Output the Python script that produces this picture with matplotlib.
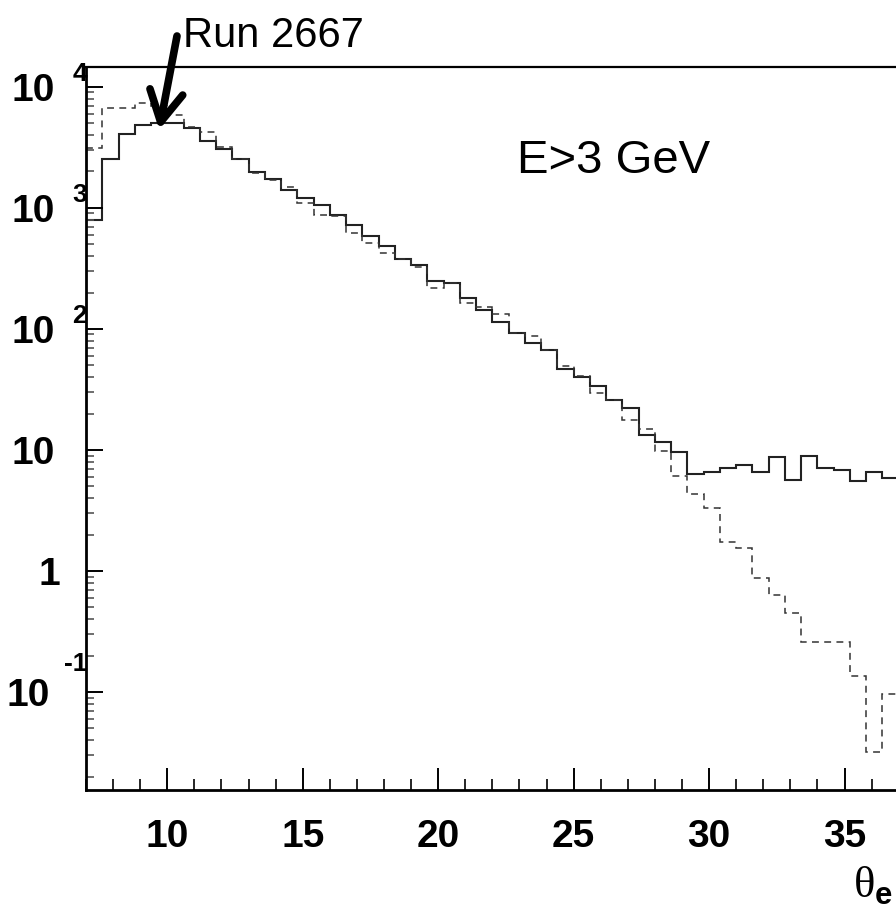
import matplotlib
matplotlib.use('Agg')
import matplotlib.pyplot as plt
from matplotlib.ticker import MultipleLocator, LogLocator, NullFormatter
import numpy as np

plt.rcParams['mathtext.fontset'] = 'custom'
plt.rcParams['mathtext.rm'] = 'Liberation Serif'
plt.rcParams['mathtext.bf'] = 'Liberation Sans:bold'

# theta_e histogram binning (deg)
bin_start = 7.0
bin_width = 0.6
n_bins = 50

# solid: Run 2667 data, dashed: comparison histogram (counts per bin)
run_counts = [796, 2526, 4064, 4853, 5070, 5000, 4560, 3600, 3055, 2526,
              1995, 1726, 1409, 1203, 1049, 881, 724, 584, 485, 377,
              338, 249, 239, 179, 144, 115, 93, 76, 67, 46.4,
              40.3, 33.6, 25.9, 22.1, 13.3, 11.7, 9.58, 6.34, 6.58, 7.06,
              7.52, 6.62, 8.80, 5.65, 8.92, 7.06, 6.84, 5.57, 6.62, 5.84]
sim_counts = [3114, 6668, 6668, 7418, 7000, 5870, 4645, 4273, 3211, 2526,
              1935, 1704, 1500, 1093, 875, 863, 625, 517, 422, 377,
              327, 217, 239, 165, 151, 133, 93, 87.5, 67, 49.4,
              40.9, 29.6, 25.9, 17.7, 14.8, 9.8, 6.13, 4.33, 3.30, 1.73,
              1.54, 0.883, 0.628, 0.450, 0.261, 0.261, 0.261, 0.136, 0.032, 0.096]

xticks = [10, 15, 20, 25, 30, 35]
xtick_labels = ['10', '15', '20', '25', '30', '35']
ytick_vals = [1e4, 1e3, 1e2, 1e1, 1, 1e-1]
ytick_base = ['10', '10', '10', '10', '1', '10']
ytick_exp = ['4', '3', '2', '', '', '-1']

arrow_tip = (9.7, 4420)   # peak the arrow points at
label_text = 'E>3 GeV'
run_text = 'Run 2667'
xtitle = r'$\mathrm{θ}_{\mathbf{e}}$'

bold_font = 'Liberation Sans'

edges = bin_start + bin_width * np.arange(n_bins + 1)

fig = plt.figure(figsize=(8.96, 9.19), dpi=100)
W, H = 896, 919
ax = fig.add_axes([86 / W, (H - 790) / H, (980 - 86) / W, (790 - 67) / H])

ax.stairs(run_counts, edges, baseline=None, color='#222222', lw=1.5)
ax.stairs(sim_counts, edges, baseline=None, color='#333333', lw=1.1,
          linestyle=(0, (4.5, 3.5)))

ax.set_yscale('log')
ax.set_xlim(7, 40)
ax.set_ylim(0.0155, 14600)

# ROOT-like frame: ticks inside, left/bottom only
for side in ['left', 'bottom']:
    ax.spines[side].set_linewidth(2.0)
ax.spines['top'].set_linewidth(1.6)
ax.spines['right'].set_visible(False)

ax.set_xticks(xticks)
ax.set_xticklabels(xtick_labels, fontfamily=bold_font, fontweight='bold', fontsize=28)
ax.xaxis.set_minor_locator(MultipleLocator(1))
ax.tick_params(axis='x', which='major', direction='in', length=16, width=1.4, pad=21)
ax.tick_params(axis='x', which='minor', direction='in', length=8, width=1.2)

ax.yaxis.set_major_locator(LogLocator(base=10, numticks=20))
ax.yaxis.set_minor_locator(LogLocator(base=10, subs=np.arange(2, 10), numticks=20))
ax.yaxis.set_major_formatter(NullFormatter())
ax.yaxis.set_minor_formatter(NullFormatter())
ax.tick_params(axis='y', which='major', direction='in', length=12, width=1.4)
ax.tick_params(axis='y', which='minor', direction='in', length=6, width=1.2, color='#555555')
ax.tick_params(top=False, right=False, which='both')

# y labels drawn as 10 + raised exponent, like the ROOT output
ytr = ax.get_yaxis_transform()
for val, base, ex in zip(ytick_vals, ytick_base, ytick_exp):
    dx = -31
    if base == '1':
        dx = -26
    if len(ex) > 1:
        dx = -36
    ax.annotate(base, xy=(0, val), xycoords=ytr, xytext=(dx, -14),
                textcoords='offset pixels', ha='right', va='baseline',
                fontfamily=bold_font, fontweight='bold', fontsize=28,
                annotation_clip=False)
    if ex:
        dy = 6 if len(ex) == 1 else 21
        ax.annotate(ex, xy=(0, val), xycoords=ytr, xytext=(1, dy),
                    textcoords='offset pixels', ha='right', va='baseline',
                    fontfamily=bold_font, fontweight='bold', fontsize=19,
                    annotation_clip=False)

# annotations
fig.text(517 / W, (H - 173) / H, label_text, fontfamily='Liberation Sans',
         fontsize=34, ha='left', va='baseline')
fig.text(183 / W, (H - 47) / H, run_text, fontfamily='Liberation Sans',
         fontsize=30, ha='left', va='baseline')
ax.annotate('', xy=arrow_tip, xycoords='data', xytext=(177, H - 36),
            textcoords='figure pixels',
            arrowprops=dict(arrowstyle='->,head_length=1.1,head_width=0.6',
                            mutation_scale=20, lw=5.5, color='black',
                            shrinkA=0, shrinkB=0))

# axis title theta_e, bottom right
fig.text(853 / W, (H - 898) / H, xtitle, fontsize=32, ha='left', va='baseline')

plt.savefig('out.png', dpi=100)
